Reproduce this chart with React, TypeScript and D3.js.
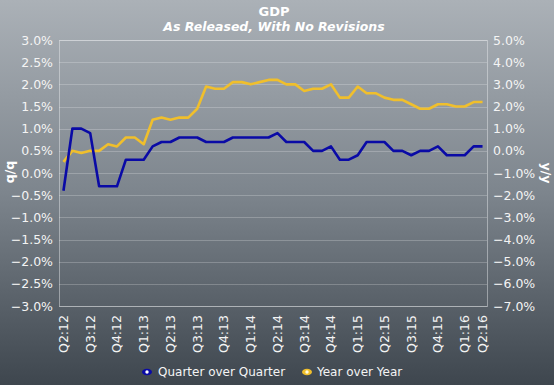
import React from "react";
import * as d3 from "d3";

const quarters = ["Q2:12","Q3:12","Q4:12","Q1:13","Q2:13","Q3:13","Q4:13","Q1:14","Q2:14","Q3:14","Q4:14","Q1:15","Q2:15","Q3:15","Q4:15","Q1:16","Q2:16"];
// each release (three per quarter), labelled by quarter at its first release
const releaseIndex = d3.range(48);
const labelIndex = [0,3,6,9,12,15,18,21,24,27,30,33,36,39,42,45,47];

const qoq = [-0.4, 1.0, 1.0, 0.9, -0.3, -0.3, -0.3, 0.3, 0.3, 0.3, 0.6, 0.7, 0.7, 0.8, 0.8, 0.8, 0.7, 0.7, 0.7, 0.8, 0.8, 0.8, 0.8, 0.8, 0.9, 0.7, 0.7, 0.7, 0.5, 0.5, 0.6, 0.3, 0.3, 0.4, 0.7, 0.7, 0.7, 0.5, 0.5, 0.4, 0.5, 0.5, 0.6, 0.4, 0.4, 0.4, 0.6, 0.6];
const yoy = [-0.5, 0.0, -0.1, 0.0, 0.0, 0.3, 0.2, 0.6, 0.6, 0.3, 1.4, 1.5, 1.4, 1.5, 1.5, 1.9, 2.9, 2.8, 2.8, 3.1, 3.1, 3.0, 3.1, 3.2, 3.2, 3.0, 3.0, 2.7, 2.8, 2.8, 3.0, 2.4, 2.4, 2.9, 2.6, 2.6, 2.4, 2.3, 2.3, 2.1, 1.9, 1.9, 2.1, 2.1, 2.0, 2.0, 2.2, 2.2];

const leftTicks = d3.range(-3, 3.01, 0.5);
const rightTicks = d3.range(-7, 5.01, 1);

const W = 554, H = 385;
const M = { left: 59, right: 487, top: 40, bottom: 306 };
const FONT = "'DejaVu Sans', Verdana, sans-serif";
const BLUE = "#0a0aa6";
const GOLD = "#f0bf2c";

export default function App() {
  const x = d3.scaleBand<number>().domain(releaseIndex).range([M.left, M.right]);
  const xc = (i: number) => (x(i) as number) + x.bandwidth() / 2;
  const yL = d3.scaleLinear().domain([-3, 3]).range([M.bottom, M.top]);
  const yR = d3.scaleLinear().domain([-7, 5]).range([M.bottom, M.top]);

  const lineL = d3.line<number>().x((_, i) => xc(i)).y((d) => yL(d));
  const lineR = d3.line<number>().x((_, i) => xc(i)).y((d) => yR(d));

  return (
    <svg width={W} height={H} style={{ position: "absolute", left: 0, top: 0 }} fontFamily={FONT}>
      <defs>
        <linearGradient id="bg" x1="0" y1="0" x2="0" y2="1">
          <stop offset="0" stopColor="#abb1b7" />
          <stop offset="0.5" stopColor="#7d858d" />
          <stop offset="1" stopColor="#3e464e" />
        </linearGradient>
      </defs>
      <rect x={0} y={0} width={W} height={H} fill="url(#bg)" />

      <text x={274} y={16} textAnchor="middle" fill="#fff" fontWeight="bold" fontSize={13}>GDP</text>
      <text x={274} y={31} textAnchor="middle" fill="#fff" fontWeight="bold" fontStyle="italic" fontSize={12.5}>As Released, With No Revisions</text>

      {leftTicks.map((t) => (
        <line key={"g" + t} x1={M.left} x2={M.right} y1={Math.round(yL(t)) + 0.5} y2={Math.round(yL(t)) + 0.5} stroke="rgba(255,255,255,0.22)" strokeWidth={1} />
      ))}
      <rect x={M.left + 0.5} y={M.top + 0.5} width={M.right - M.left} height={M.bottom - M.top} fill="none" stroke="rgba(235,238,240,0.45)" strokeWidth={1} />

      {leftTicks.map((t) => (
        <text key={"l" + t} x={M.left - 6} y={yL(t)} dy="0.36em" textAnchor="end" fill="#f4f4f4" fontSize={12.5}>{d3.format(".1f")(t) + "%"}</text>
      ))}
      {rightTicks.map((t) => (
        <text key={"r" + t} x={M.right + 6} y={yR(t)} dy="0.36em" textAnchor="start" fill="#f4f4f4" fontSize={12.5}>{d3.format(".1f")(t) + "%"}</text>
      ))}

      <text transform={`translate(10,${(M.top + M.bottom) / 2 - 1}) rotate(-90)`} textAnchor="middle" dy="0.35em" fill="#fff" fontWeight="bold" fontSize={12.5}>q/q</text>
      <text transform={`translate(546,${(M.top + M.bottom) / 2}) rotate(90)`} textAnchor="middle" dy="0.35em" fill="#fff" fontWeight="bold" fontSize={12.5}>y/y</text>

      {labelIndex.map((idx, k) => (
        <text key={"x" + k} transform={`translate(${xc(idx)},${M.bottom + 9}) rotate(-90)`} textAnchor="end" dy="0.36em" fill="#f4f4f4" fontSize={12.5}>{quarters[k]}</text>
      ))}

      <path d={lineR(yoy) || ""} fill="none" stroke={GOLD} strokeWidth={2.6} strokeLinejoin="round" />
      <path d={lineL(qoq) || ""} fill="none" stroke={BLUE} strokeWidth={2.6} strokeLinejoin="round" />

      <g transform="translate(0,372)">
        <ellipse cx={147} cy={0} rx={5} ry={3.2} fill={BLUE} />
        <circle cx={147} cy={0} r={1.7} fill="#fff" />
        <text x={158} y={0} dy="0.36em" fill="#f4f4f4" fontSize={12}>Quarter over Quarter</text>
        <ellipse cx={307} cy={0} rx={5} ry={3.2} fill={GOLD} />
        <circle cx={307} cy={0} r={1.7} fill="#fffbe0" />
        <text x={317} y={0} dy="0.36em" fill="#f4f4f4" fontSize={12}>Year over Year</text>
      </g>
    </svg>
  );
}
